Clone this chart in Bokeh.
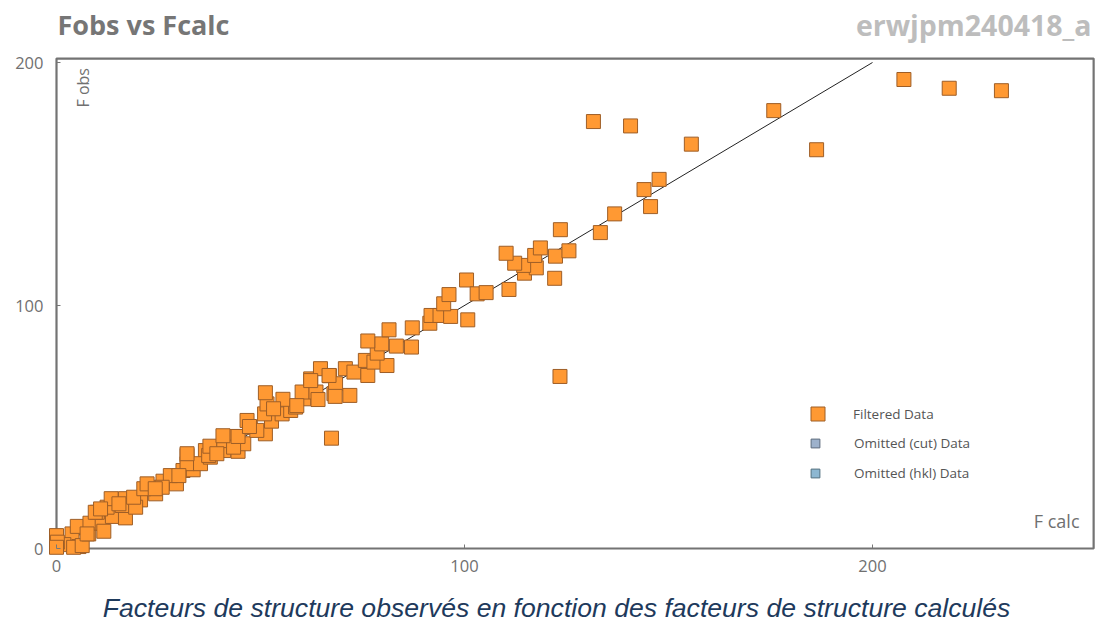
import math
from bokeh.plotting import figure
from bokeh.models import (ColumnDataSource, Range1d, FixedTicker, Label,
                          Legend, LegendItem)
from bokeh.embed import file_html
from bokeh.resources import INLINE

# ---- data -----------------------------------------------------------------
f_calc = [
    0.0, 3.8, 1.8, 0.2, 5.5, 4.2, 0.0, 6.3, 7.9, 5.1, 8.2, 11.2, 11.6, 7.5,
    13.7, 10.0, 16.9, 12.4, 13.4, 16.9, 20.6, 16.1, 19.4, 15.3, 18.9, 9.5, 10.8,
    22.6, 24.3, 21.4, 26.1, 29.4, 27.9, 25.9, 22.2, 24.2, 31.0, 33.5, 32.0, 32.0,
    36.5, 35.3, 37.7, 30.0, 32.0, 37.3, 41.0, 44.5, 37.6, 41.0, 43.6, 39.3,
    45.9, 43.4, 40.8, 47.5, 51.2, 46.7, 52.7, 51.0, 55.3, 57.4, 58.6, 51.6,
    51.2, 55.5, 60.6, 60.2, 63.6, 62.3, 64.7, 66.9, 68.0, 68.4, 71.9, 70.8,
    72.9, 76.3, 75.7, 77.8, 81.0, 78.6, 79.7, 76.3, 83.3, 87.0, 81.5, 87.2,
    91.5, 91.8, 94.0, 96.6, 94.9, 96.2, 100.8, 100.5, 103.1, 105.3, 110.9,
    114.7, 117.6, 114.5, 112.3, 110.2, 117.2, 118.6, 122.3, 125.6, 122.1,
    123.5, 133.3, 136.8, 145.6, 144.0, 147.7, 155.6, 131.6, 140.7, 175.8,
    186.3, 207.7, 218.8, 231.6, 123.4, 67.4, 49.1, 53.2, 58.9, 64.1, 68.3,
    44.5, 47.3, 62.3, 66.8,
]
f_obs = [
    5.3, 6.0, 1.6, 2.6, 0.8, 0.5, 0.5, 1.2, 6.0, 9.1, 10.4, 10.4, 7.1, 6.0,
    13.2, 14.9, 12.6, 17.0, 20.5, 20.5, 20.0, 17.7, 17.0, 18.4, 21.1, 14.9, 16.3,
    25.2, 22.5, 24.6, 27.7, 26.6, 30.0, 25.2, 26.6, 24.6, 32.1, 32.4, 38.3, 34.9,
    40.3, 34.9, 37.6, 30.0, 39.0, 38.3, 40.3, 40.0, 42.1, 44.4, 46.1, 39.0,
    43.1, 41.7, 46.4, 49.9, 47.2, 52.7, 52.4, 55.4, 55.4, 56.8, 58.2, 59.5,
    64.1, 61.4, 61.6, 64.4, 64.4, 69.8, 74.0, 71.1, 63.7, 67.8, 63.0, 74.0,
    72.6, 71.2, 77.4, 76.7, 75.3, 80.4, 84.2, 85.4, 83.3, 82.9, 90.0, 90.8,
    92.7, 95.9, 95.9, 95.5, 100.7, 104.5, 94.1, 110.5, 104.8, 105.3, 106.6,
    113.3, 115.5, 116.5, 117.4, 121.5, 120.6, 123.7, 120.3, 122.5, 111.2,
    131.2, 130.0, 137.7, 140.7, 147.7, 151.9, 166.4, 175.7, 173.9, 180.2,
    164.1, 193.0, 189.4, 188.4, 70.8, 45.4, 48.6, 57.5, 58.8, 61.3, 62.6,
    46.1, 50.2, 69.1, 71.2,
]

# omitted reflections: none in this data set
cut_calc, cut_obs = [float("nan")], [float("nan")]
hkl_calc, hkl_obs = [float("nan")], [float("nan")]

# ideal agreement line Fobs = Fcalc
ideal_x = [0, 200]
ideal_y = [0, 200]

x_ticks = [0, 100, 200]
y_ticks = [0, 100, 200]

# extent of the boxed plotting area (data units)
x_box_max = 254.2
y_box_max = 201.6

# ---- figure ---------------------------------------------------------------
# The frame fills the whole canvas; axes are pinned to the data origin so
# that headings, captions and tick labels can all live inside it.
W, H = 1098, 622
PX_X0, PX_Y0 = 56, 548          # canvas position of the data origin
SX, SY = 4.08, 2.43             # pixels per data unit

p = figure(width=W, height=H, output_backend="svg", toolbar_location=None,
           title=None,
           x_range=Range1d(-PX_X0 / SX, (W - PX_X0) / SX),
           y_range=Range1d(-(H - PX_Y0) / SY, PX_Y0 / SY),
           min_border=0)
p.outline_line_alpha = 0
p.grid.visible = False
p.background_fill_color = "white"
p.border_fill_color = "white"

UI_FONT = "Open Sans"
GREY = "#707070"

# frame box
p.quad(left=[0], right=[x_box_max], bottom=[0], top=[y_box_max],
       fill_alpha=0, line_color="#737373", line_width=2.2)

# reference line
p.line(ideal_x, ideal_y, line_color="#222222", line_width=1)

src = ColumnDataSource(data=dict(fcalc=f_calc, fobs=f_obs))
filtered = p.scatter(x="fcalc", y="fobs", source=src, marker="square",
                     size=14, fill_color="#FF9933", line_color="#9E5E27",
                     line_width=1)
cut = p.scatter(x=cut_calc, y=cut_obs, marker="square", size=9,
                fill_color="#9DB1CB", line_color="#5C6A7C", line_width=1)
hkl = p.scatter(x=hkl_calc, y=hkl_obs, marker="square", size=9,
                fill_color="#8DB7D1", line_color="#53707F", line_width=1)

# axes sit on the data origin, ticks point inward
for ax, ticks, bounds, standoff in ((p.xaxis, x_ticks, (0, x_box_max), 11),
                                    (p.yaxis, y_ticks, (0, y_box_max), 13)):
    ax.ticker = FixedTicker(ticks=ticks)
    ax.fixed_location = 0
    ax.bounds = bounds
    ax.axis_line_alpha = 0
    ax.major_tick_in = 4
    ax.major_tick_out = 0
    ax.minor_tick_line_alpha = 0
    ax.major_tick_line_color = "#777777"
    ax.major_label_standoff = standoff
    ax.major_label_text_font = UI_FONT
    ax.major_label_text_font_size = "16.5px"
    ax.major_label_text_color = GREY

# legends (location = bottom-left corner, pixels from canvas bottom-left)
leg_common = dict(padding=0, margin=0, border_line_alpha=0,
                  background_fill_alpha=0, label_text_font=UI_FONT,
                  label_text_font_size="13.5px", label_text_color="#555555")
leg1 = Legend(items=[LegendItem(label="Filtered Data", renderers=[filtered])],
              location=(800, 191), glyph_width=35, glyph_height=35,
              label_standoff=18, **leg_common)
leg2 = Legend(items=[LegendItem(label="Omitted (cut) Data", renderers=[cut]),
                     LegendItem(label="Omitted (hkl) Data", renderers=[hkl])],
              location=(804, 138), glyph_width=22, glyph_height=22, spacing=8,
              label_standoff=28, **leg_common)
p.add_layout(leg1)
p.add_layout(leg2)

# pixel helpers for text placement
def dx(px):
    return (px - PX_X0) / SX

def dy(py):
    return (PX_Y0 - py) / SY

p.add_layout(Label(x=dx(57), y=dy(24), text="Fobs vs Fcalc",
                   text_font=UI_FONT, text_font_style="bold",
                   text_font_size="27px", text_color="#767676",
                   text_align="left", text_baseline="alphabetic"))
p.add_layout(Label(x=dx(1091), y=dy(24), text="erwjpm240418_a",
                   text_font=UI_FONT, text_font_style="bold",
                   text_font_size="28.5px", text_color="#BDBDBD",
                   text_align="right", text_baseline="alphabetic"))
p.add_layout(Label(x=dx(82), y=dy(107), text="F obs", angle=math.pi / 2,
                   text_font=UI_FONT, text_font_size="16px", text_color=GREY,
                   text_align="left", text_baseline="alphabetic"))
p.add_layout(Label(x=dx(1079), y=dy(520), text="F calc",
                   text_font=UI_FONT, text_font_size="18px", text_color=GREY,
                   text_align="right", text_baseline="alphabetic"))
p.add_layout(Label(x=dx(556), y=dy(607),
                   text="Facteurs de structure observés en fonction des facteurs de structure calculés",
                   text_font="Liberation Sans", text_font_style="italic",
                   text_font_size="26.6px", text_color="#1E3A5C",
                   text_align="center", text_baseline="alphabetic"))

open("out.html", "w").write(file_html(p, INLINE))
